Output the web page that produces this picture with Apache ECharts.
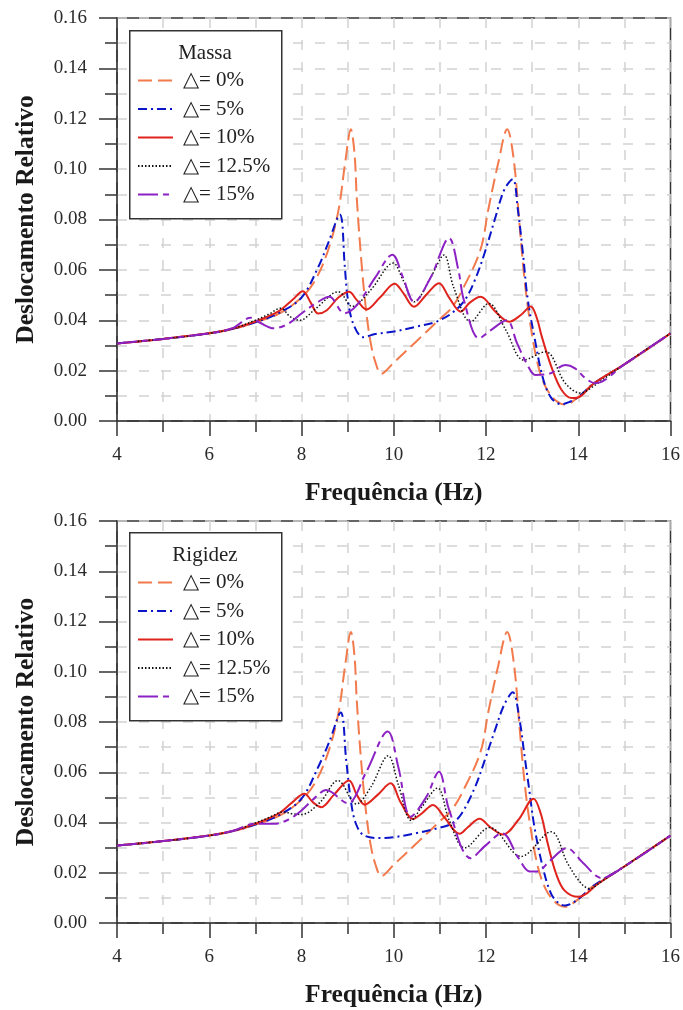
<!DOCTYPE html>
<html><head><meta charset="utf-8">
<script src="https://cdn.jsdelivr.net/npm/echarts@6/dist/echarts.min.js"></script>
<style>html,body{margin:0;padding:0;background:#fff}#c{width:683px;height:1010px}</style>
</head><body><div id="c"></div>
<script>
// ---- data: [frequency Hz, relative displacement] ----
const legendTitles = ['Massa', 'Rigidez'];
const seriesNames = ['△= 0%', '△= 5%', '△= 10%', '△= 12.5%', '△= 15%'];
const xTicks = [4, 6, 8, 10, 12, 14, 16];

// Δ = 0% (same reference curve in both panels)
const base0 = [[4,0.0308],[5,0.0326],[6,0.0348],[6.5,0.0364],[7,0.0392],[7.5,0.0425],[8,0.049],[8.3,0.056],[8.58,0.068],[8.8,0.0835],[8.95,0.103],[9.07,0.1158],[9.15,0.106],[9.2,0.088],[9.3,0.063],[9.4,0.044],[9.5,0.031],[9.6,0.0235],[9.73,0.0187],[10,0.0232],[10.5,0.0318],[11,0.0405],[11.25,0.0448],[11.5,0.0525],[11.88,0.068],[12.05,0.084],[12.26,0.102],[12.46,0.1158],[12.6,0.104],[12.73,0.0773],[12.83,0.057],[12.94,0.041],[13.12,0.0227],[13.3,0.0133],[13.52,0.008],[13.72,0.0065],[14,0.0095],[14.33,0.0148],[15,0.0225],[16,0.0348]];

// Massa panel
const massa5 = [[4,0.0308],[5,0.0326],[6,0.0348],[6.5,0.0365],[7,0.0392],[7.5,0.0428],[8,0.049],[8.36,0.061],[8.58,0.0707],[8.83,0.082],[8.94,0.061],[9.0,0.049],[9.12,0.0387],[9.34,0.0333],[9.6,0.0345],[10.0,0.0355],[10.5,0.0375],[10.9,0.0393],[11.25,0.0427],[11.54,0.048],[11.76,0.056],[11.97,0.0667],[12.19,0.08],[12.4,0.092],[12.58,0.096],[12.69,0.084],[12.8,0.0667],[12.9,0.049],[13.05,0.0333],[13.23,0.0173],[13.41,0.0093],[13.63,0.0067],[13.8,0.0075],[14,0.0095],[14.33,0.0148],[15,0.0225],[16,0.0348]];
const massa10 = [[4,0.0308],[5,0.0326],[6,0.0348],[6.5,0.0366],[7,0.0395],[7.5,0.0435],[7.8,0.048],[8.03,0.0515],[8.2,0.047],[8.36,0.0427],[8.55,0.044],[8.8,0.049],[9.03,0.0513],[9.2,0.048],[9.41,0.0443],[9.7,0.049],[10.02,0.0545],[10.2,0.051],[10.44,0.0454],[10.7,0.05],[10.98,0.0547],[11.2,0.049],[11.45,0.0434],[11.65,0.047],[11.88,0.0493],[12.2,0.0435],[12.5,0.0394],[12.75,0.042],[12.97,0.0455],[13.1,0.041],[13.21,0.0335],[13.42,0.0214],[13.64,0.0123],[13.86,0.0091],[14.05,0.0098],[14.33,0.0148],[15,0.0225],[16,0.0348]];
const massa125 = [[4,0.0308],[5,0.0326],[6,0.0348],[6.5,0.0366],[7,0.04],[7.3,0.0425],[7.55,0.0448],[7.75,0.0415],[7.96,0.040],[8.3,0.0445],[8.8,0.0513],[9.1,0.0455],[9.5,0.052],[9.99,0.0627],[10.2,0.056],[10.45,0.0473],[10.8,0.057],[11.09,0.0659],[11.3,0.053],[11.67,0.0394],[12.06,0.0467],[12.43,0.0361],[12.82,0.0242],[13.29,0.0275],[13.72,0.015],[14.05,0.0111],[14.2,0.0122],[15,0.0225],[16,0.0348]];
const massa15 = [[4,0.0308],[5,0.0326],[6,0.0348],[6.5,0.0368],[6.9,0.041],[7.1,0.039],[7.4,0.0368],[7.7,0.0385],[8.0,0.0427],[8.36,0.0473],[8.6,0.0493],[8.93,0.0428],[9.2,0.046],[9.6,0.057],[9.97,0.066],[10.2,0.057],[10.44,0.0473],[10.8,0.057],[11.2,0.0726],[11.4,0.06],[11.52,0.048],[11.85,0.0328],[12.1,0.036],[12.45,0.040],[12.67,0.031],[12.9,0.0222],[13.07,0.0183],[13.36,0.0187],[13.72,0.0222],[13.93,0.0209],[14.16,0.0169],[14.37,0.015],[15,0.0225],[16,0.0348]];

// Rigidez panel
const rig5 = [[4,0.0308],[5,0.0326],[6,0.0348],[6.5,0.0365],[7,0.0392],[7.5,0.0428],[8,0.0495],[8.36,0.062],[8.6,0.072],[8.85,0.0838],[8.97,0.0646],[9.07,0.0487],[9.18,0.0395],[9.36,0.0348],[9.75,0.0338],[10.02,0.0342],[10.5,0.0358],[10.9,0.0375],[11.25,0.0395],[11.47,0.0435],[11.76,0.054],[11.97,0.0646],[12.19,0.0765],[12.4,0.0871],[12.58,0.0918],[12.73,0.0805],[12.83,0.0673],[12.94,0.0527],[13.05,0.0382],[13.23,0.0223],[13.41,0.0117],[13.59,0.0077],[13.72,0.007],[14,0.0095],[14.33,0.0148],[15,0.0225],[16,0.0348]];
const rig10 = [[4,0.0308],[5,0.0326],[6,0.0348],[6.5,0.0366],[7,0.0395],[7.5,0.0435],[7.8,0.048],[8.06,0.0514],[8.25,0.048],[8.43,0.0461],[8.7,0.051],[9.03,0.0567],[9.2,0.051],[9.37,0.0471],[9.65,0.051],[9.93,0.0556],[10.15,0.048],[10.42,0.0414],[10.6,0.0435],[10.85,0.047],[11.1,0.042],[11.43,0.0355],[11.6,0.038],[11.86,0.0415],[12.1,0.038],[12.37,0.0352],[12.7,0.041],[13.03,0.0495],[13.19,0.0434],[13.34,0.0315],[13.52,0.0196],[13.7,0.013],[14.0,0.0104],[14.2,0.012],[14.4,0.0152],[15,0.0225],[16,0.0348]];
const rig125 = [[4,0.0308],[5,0.0326],[6,0.0348],[6.5,0.0366],[7,0.0398],[7.3,0.042],[7.6,0.0442],[7.8,0.0435],[8.0,0.0432],[8.4,0.048],[8.79,0.0567],[9.19,0.0474],[9.5,0.054],[9.88,0.0666],[10.1,0.055],[10.38,0.0408],[10.6,0.046],[10.95,0.0537],[11.2,0.041],[11.54,0.0299],[12.08,0.038],[12.76,0.0265],[13.41,0.0363],[13.77,0.0237],[14.06,0.0158],[14.25,0.0137],[14.5,0.0165],[15,0.0225],[16,0.0348]];
const rig15 = [[4,0.0308],[5,0.0326],[6,0.0348],[6.5,0.0366],[7,0.0395],[7.4,0.0395],[7.7,0.041],[8.0,0.0448],[8.3,0.05],[8.53,0.0529],[9.0,0.0477],[9.4,0.06],[9.87,0.0762],[10.1,0.062],[10.37,0.0423],[10.7,0.05],[10.98,0.0602],[11.2,0.045],[11.67,0.0258],[12.0,0.031],[12.35,0.0358],[12.7,0.026],[12.95,0.0205],[13.1,0.0205],[13.4,0.025],[13.75,0.0298],[14.1,0.024],[14.51,0.0179],[15,0.0225],[16,0.0348]];

const panels = [
  [base0, massa5, massa10, massa125, massa15],
  [base0, rig5, rig10, rig125, rig15]
];

// ---- styles ----
const FONT = 'Liberation Serif';
const styles = [
  {color:'#F27A4C', width:2, type:[14,6]},
  {color:'#0A14C8', width:2, type:[9,4,2,4]},
  {color:'#E0231C', width:2, type:'solid'},
  {color:'#111111', width:1.5, type:[1.5,2]},
  {color:'#8C22C4', width:2, type:[20,5,6,5]}
];
const gridTops = [18, 521];
const gridH = [403, 402];
const boxTops = [30, 532];

const grids = [], xAxes = [], yAxes = [], series = [], legends = [], graphics = [];
const gridLine = {color:'#d2d2d2', width:1.5, type:[10,12]};
for (let p = 0; p < 2; p++) {
  grids.push({left:117, width:555, top:gridTops[p], height:gridH[p], show:true, borderColor:'#333', borderWidth:1.5, backgroundColor:'transparent'});
  xAxes.push({gridIndex:p, type:'value', min:4, max:16, interval:2,
    name:'Frequência (Hz)', nameLocation:'middle', nameGap:59,
    nameTextStyle:{fontFamily:FONT, fontWeight:'bold', fontSize:25.5, color:'#1a1a1a'},
    axisLine:{onZero:false, lineStyle:{color:'#333', width:1.5}},
    axisTick:{show:true, length:15, lineStyle:{color:'#333', width:1.5}},
    minorTick:{show:true, splitNumber:2, length:11, lineStyle:{color:'#333', width:1.5}},
    axisLabel:{fontFamily:FONT, fontSize:19, color:'#2a2a2a', margin:25, formatter: v => xTicks.includes(v) ? String(v) : ''},
    splitLine:{show:true, lineStyle:gridLine},
    minorSplitLine:{show:true, lineStyle:gridLine}
  });
  yAxes.push({gridIndex:p, type:'value', min:0, max:0.16, interval:0.02,
    name:'Deslocamento Relativo', nameLocation:'middle', nameGap:78,
    nameTextStyle:{fontFamily:FONT, fontWeight:'bold', fontSize:25.5, color:'#1a1a1a'},
    axisLine:{onZero:false, lineStyle:{color:'#333', width:1.5}},
    axisTick:{show:true, length:18, lineStyle:{color:'#333', width:1.5}},
    minorTick:{show:true, splitNumber:2, length:12, lineStyle:{color:'#333', width:1.5}},
    axisLabel:{fontFamily:FONT, fontSize:19, color:'#2a2a2a', margin:30, formatter: v => v.toFixed(2)},
    splitLine:{show:true, lineStyle:gridLine},
    minorSplitLine:{show:true, lineStyle:gridLine}
  });
  panels[p].forEach((d, i) => {
    series.push({type:'line', name:seriesNames[i], xAxisIndex:p, yAxisIndex:p, data:d,
      smooth:0.35, showSymbol:false, symbol:'none', z:2+i,
      lineStyle:{color:styles[i].color, width:styles[i].width, type:styles[i].type},
      itemStyle:{color:styles[i].color}});
  });
  legends.push({orient:'vertical', left:137, top:boxTops[p]+40, itemWidth:35, itemHeight:14, itemGap:7.5,
    data:seriesNames, selectedMode:false, z:10, padding:0,
    itemStyle:{opacity:0, borderWidth:0},
    textStyle:{fontFamily:FONT, fontSize:21, color:'#222', lineHeight:18, padding:[0,0,0,5]}});
  graphics.push({type:'rect', left:129, top:boxTops[p], z:8,
    shape:{width:152, height:188}, style:{fill:'#fff', stroke:'#333', lineWidth:1.5}});
  graphics.push({type:'text', z:9, style:{text:legendTitles[p], font:'21px "Liberation Serif"', fill:'#222', x:205, y:boxTops[p]+23, align:'center', verticalAlign:'middle'}});
}

const chart = echarts.init(document.getElementById('c'), null, {renderer:'canvas'});
chart.setOption({
  animation:false, backgroundColor:'#fff',
  grid:grids, xAxis:xAxes, yAxis:yAxes, series:series, legend:legends, graphic:graphics
});
</script></body></html>
